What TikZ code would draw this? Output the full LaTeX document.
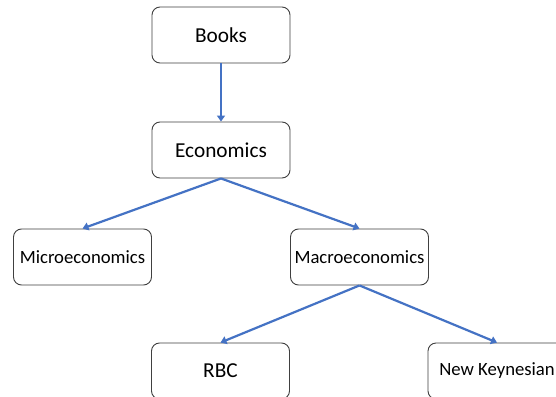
\documentclass[tikz,border=0pt]{standalone}
\usepackage{fontspec}
\setmainfont{Carlito}
\usetikzlibrary{arrows.meta}
\definecolor{boxline}{RGB}{64,64,64}
\definecolor{arrowblue}{RGB}{68,114,196}
\tikzset{
  box/.style={draw=boxline, line width=0.9pt, rounded corners=8pt, fill=white,
    minimum width=138pt, minimum height=56pt, inner sep=0pt, text=black},
  big/.style={font=\fontsize{21.3}{25}\selectfont},
  small/.style={font=\fontsize{18.7}{22}\selectfont},
  conn/.style={draw=arrowblue, line width=2.2pt, -{Triangle[length=6pt,width=8pt]}}
}
\begin{document}
\begin{tikzpicture}[x=1pt,y=-1pt]
\useasboundingbox[fill=white] (0,0) rectangle (556,396);
\node[box,big] (books) at (221,35) {Books};
\node[box,big] (econ) at (221,150) {Economics};
\node[box,small] (micro) at (82.5,257) {Microeconomics};
\node[box,small] (macro) at (359.5,257) {Macroeconomics};
\node[box,big] (rbc) at (220.5,371) {RBC};
\node[box,small] (nk) at (497,371) {New Keynesian};
\draw[conn] (books.south) -- (econ.north);
\draw[conn] (econ.south) -- (micro.north);
\draw[conn] (econ.south) -- (macro.north);
\draw[conn] (macro.south) -- (rbc.north);
\draw[conn] (macro.south) -- (nk.north);
\end{tikzpicture}
\end{document}
